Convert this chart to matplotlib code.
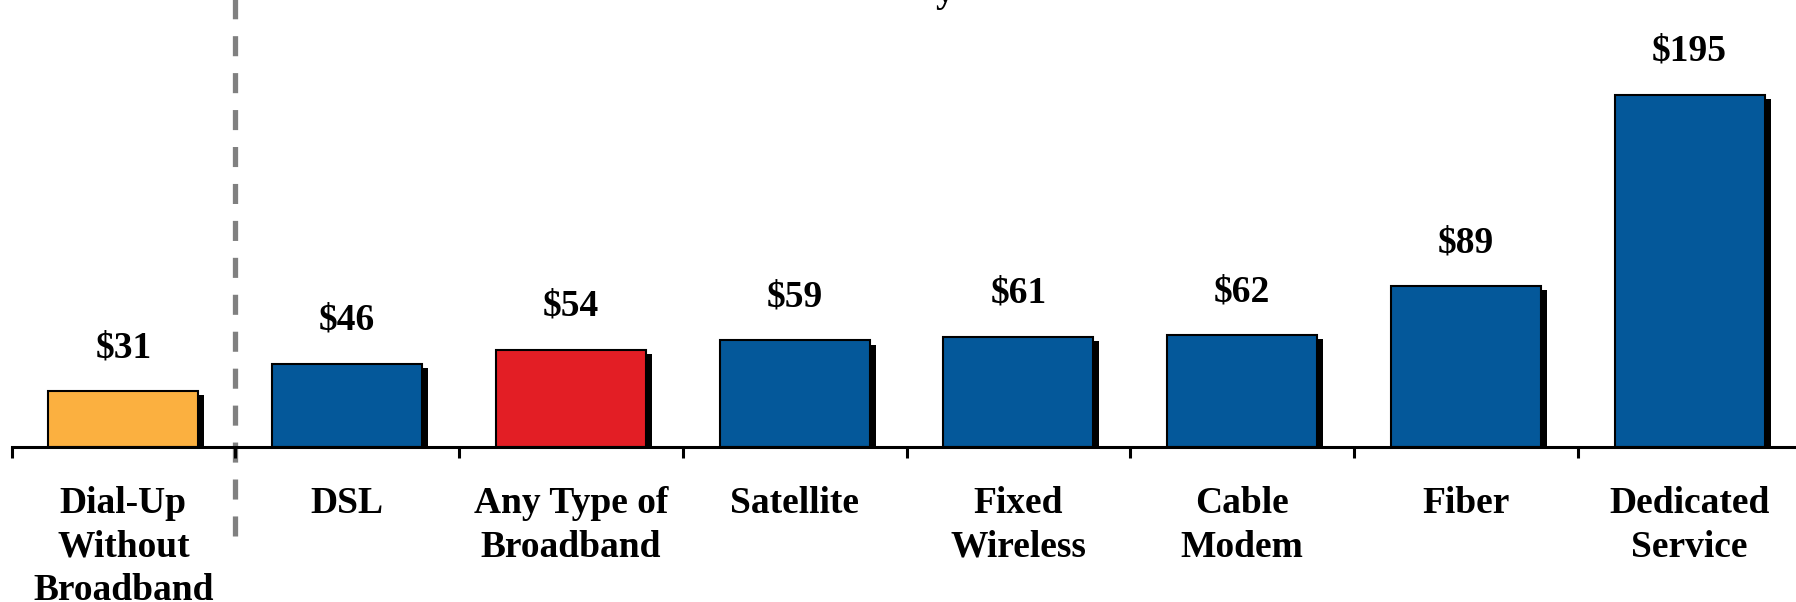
import matplotlib.pyplot as plt
from matplotlib import patheffects

# average monthly bill by connection type
categories = ['Dial-Up\nWithout\nBroadband', 'DSL', 'Any Type of\nBroadband', 'Satellite',
              'Fixed\nWireless', 'Cable\nModem', 'Fiber', 'Dedicated\nService']
values = [31, 46, 54, 59, 61, 62, 89, 195]
value_labels = ['$31', '$46', '$54', '$59', '$61', '$62', '$89', '$195']
colors = ['#FBB040', '#04589A', '#E31E25', '#04589A', '#04589A', '#04589A', '#04589A', '#04589A']

plt.rcParams['font.family'] = ['Liberation Serif', 'DejaVu Serif']

fig = plt.figure(figsize=(17.96, 6.02), dpi=100)
ax = fig.add_axes([11.5 / 1796, 155 / 602, 1790 / 1796, 447 / 602])

x = range(len(values))
bars = ax.bar(x, values, width=0.67, color=colors, edgecolor='black', linewidth=1.5, zorder=2)
for b in bars:
    b.set_path_effects([patheffects.SimplePatchShadow(offset=(4.3, -2.9), shadow_rgbFace='black', alpha=1),
                        patheffects.Normal()])

for i, v in enumerate(values):
    ax.annotate(value_labels[i], (i, v), xytext=(0, 24.5), textcoords='offset points',
                ha='center', va='baseline', fontsize=27, fontweight='bold')

ax.set_xlim(-0.5, 7.5)
ax.set_ylim(0, 247.6)

# divider between dial-up and broadband
ax.axvline(0.5, ymin=-89 / 447, ymax=1.05, color='#808080', lw=3.8,
           dashes=(3.8, 3.2), clip_on=False, zorder=1)

for s in ['top', 'left', 'right']:
    ax.spines[s].set_visible(False)
ax.spines['bottom'].set_linewidth(2.2)
ax.spines['bottom'].set_zorder(3)

ax.set_yticks([])
ax.set_xticks(list(x))
ax.set_xticklabels(categories, fontsize=27, fontweight='bold', linespacing=1.32)
ax.set_xticks([i - 0.5 for i in range(len(values) + 1)], minor=True)
ax.tick_params(axis='x', which='major', length=0, pad=28)
ax.tick_params(axis='x', which='minor', length=8, width=2.2, direction='out')

# title is cut off at the top, only the descender shows
fig.text(945 / 1796, 1 - 2 / 602, 'y', ha='center', va='baseline', fontsize=27, fontweight='bold')

fig.savefig('out.png', dpi=100)
